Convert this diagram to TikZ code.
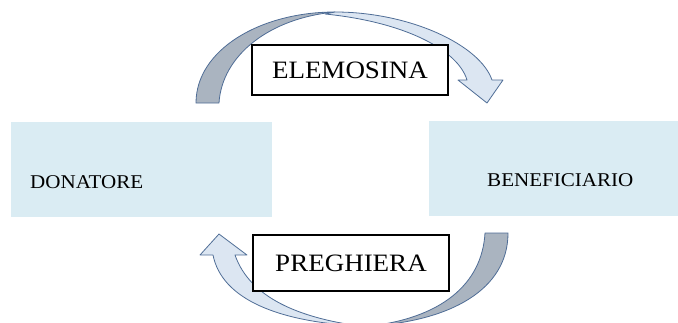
\documentclass[tikz,border=0pt]{standalone}
\usepackage{fontspec}
\setmainfont[FakeStretch=1.08]{Liberation Serif}
\usepackage{tikz}
\usetikzlibrary{positioning}

\definecolor{edgeblue}{RGB}{79,109,150}
\definecolor{backgray}{RGB}{170,180,192}
\definecolor{frontblue}{RGB}{220,230,242}
\definecolor{boxblue}{RGB}{218,236,243}

\begin{document}
\begin{tikzpicture}[x=1pt, y=-1pt,
		backface/.style={draw=edgeblue, fill=backgray, line width=0.8pt, line join=round},
		frontface/.style={draw=edgeblue, fill=frontblue, line width=0.8pt, line join=round},
		sidebox/.style={rectangle, fill=boxblue, inner sep=0pt},
		sidetext/.style={anchor=base west, inner sep=0pt, font=\fontsize{19.5}{22}\selectfont},
		labelbox/.style={draw, rectangle, fill=white, line width=1.5pt, inner sep=0pt, font=\fontsize{25}{28}\selectfont}]
	\useasboundingbox (0,0) rectangle (678,322);
	
	% upper arrow
	\draw[backface] (196,103) .. controls (196,50) and (260,12) .. (335,12) .. controls (270,18) and (222,55) .. (219,103) -- cycle;
	\draw[frontface] (335,12) .. controls (410,12) and (480,45) .. (492,80) -- (503,80) -- (487,103) -- (458,80) -- (467,80) .. controls (458,50) and (405,22) .. (325,14) -- cycle;
	
	% lower arrow
	\draw[frontface] (360,326) .. controls (280,322) and (222,300) .. (213,255) -- (200,255) -- (219,234) -- (247,255) -- (235,255) .. controls (250,298) and (300,318) .. (360,326) -- cycle;
	\draw[backface] (485,233) -- (508,233) .. controls (508,290) and (450,321) .. (370,326) .. controls (440,318) and (482,285) .. (485,233) -- cycle;
	
	\node[sidebox, minimum width=261pt, minimum height=95pt] (donatore) at (141.5,169.5) {};
	\node[sidetext] (donatoretxt) at (30,188) {DONATORE};
	\node[sidebox, minimum width=249pt, minimum height=95pt] (beneficiario) at (553.5,168.5) {};
	\node[sidetext] (beneficiariotxt) at (487,186) {BENEFICIARIO};
	
	\node[labelbox, minimum width=196pt, minimum height=50pt] (elemosina) at (350,70) {ELEMOSINA};
	\node[labelbox, minimum width=196pt, minimum height=56pt] (preghiera) at (351,263) {PREGHIERA};
\end{tikzpicture}
\end{document}
